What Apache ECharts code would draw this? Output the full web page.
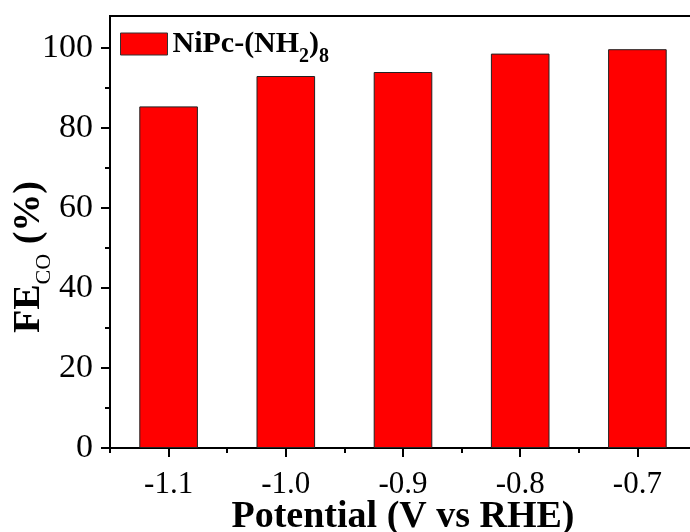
<!DOCTYPE html>
<html>
<head>
<meta charset="utf-8">
<script src="https://cdn.jsdelivr.net/npm/echarts@6/dist/echarts.min.js"></script>
<style>
  html, body { margin: 0; padding: 0; background: #fff; }
  #chart { width: 690px; height: 532px; }
</style>
</head>
<body>
<div id="chart"></div>
<script>
// Potential steps (V vs RHE) and CO Faradaic efficiency (%)
const potentials = ['-1.1', '-1.0', '-0.9', '-0.8', '-0.7'];
const feCO = [85.4, 93.0, 94.0, 98.6, 99.7];
const yMajorTicks = [0, 20, 40, 60, 80, 100];
const yMinorTicks = [10, 30, 50, 70, 90];
const seriesName = 'NiPc-(NH2)8';

const serif = 'Liberation Serif';

const chart = echarts.init(document.getElementById('chart'));
chart.setOption({
  animation: false,
  backgroundColor: '#fff',
  grid: {
    left: 110, top: 16, bottom: 84, width: 586,
    outerBoundsMode: 'none',
    show: true, borderColor: '#000', borderWidth: 2,
    backgroundColor: 'transparent'
  },
  legend: {
    left: 115, top: 24,
    itemWidth: 47, itemHeight: 22, itemGap: 8,
    icon: 'rect',
    itemStyle: { borderColor: '#333', borderWidth: 1 },
    data: [seriesName],
    formatter: () => '{a|NiPc-(NH}{s|2}{a|)}{s|8}',
    textStyle: {
      rich: {
        a: { fontFamily: serif, fontWeight: 'bold', fontSize: 30, color: '#000', lineHeight: 34 },
        s: { fontFamily: serif, fontWeight: 'bold', fontSize: 20, color: '#000', lineHeight: 20, verticalAlign: 'bottom', padding: [0, 0, -6, 0] }
      }
    }
  },
  xAxis: [
    {
      type: 'category',
      data: potentials,
      position: 'bottom',
      boundaryGap: true,
      axisLine: { show: true, lineStyle: { color: '#000', width: 2 } },
      axisTick: { show: true, alignWithLabel: true, inside: false, length: 9, lineStyle: { color: '#000', width: 2 } },
      axisLabel: { fontFamily: serif, fontSize: 31, color: '#000', margin: 21 },
      name: 'Potential (V vs RHE)',
      nameLocation: 'middle',
      nameGap: 50,
      nameMoveOverlap: false,
      nameTextStyle: { fontFamily: serif, fontWeight: 'bold', fontSize: 38, color: '#000' },
      splitLine: { show: false }
    },
    {
      type: 'category',
      data: potentials,
      position: 'bottom',
      boundaryGap: true,
      axisLine: { show: false },
      axisTick: { show: true, alignWithLabel: false, inside: false, length: 5, lineStyle: { color: '#000', width: 2 } },
      axisLabel: { show: false },
      splitLine: { show: false }
    }
  ],
  yAxis: [
    {
      type: 'value',
      min: 0, max: 108,
      position: 'left',
      axisLine: { show: true, lineStyle: { color: '#000', width: 2 } },
      axisTick: { show: true, inside: false, length: 9, customValues: yMajorTicks, lineStyle: { color: '#000', width: 2 } },
      axisLabel: { fontFamily: serif, fontSize: 34, color: '#000', margin: 17, customValues: yMajorTicks },
      splitLine: { show: false },
      name: '{b|FE}{s|CO}{b| (%)}',
      nameLocation: 'middle',
      nameGap: 60,
      nameMoveOverlap: false,
      nameTextStyle: {
        padding: [0, 50, 0, 0],
        rich: {
          b: { fontFamily: serif, fontWeight: 'bold', fontSize: 38, color: '#000', lineHeight: 42 },
          s: { fontFamily: serif, fontWeight: 'normal', fontSize: 22, color: '#000', lineHeight: 22, verticalAlign: 'bottom', padding: [0, 0, -5, 0] }
        }
      }
    },
    {
      type: 'value',
      min: 0, max: 108,
      position: 'left',
      axisLine: { show: false },
      axisTick: { show: true, inside: false, length: 5, customValues: yMinorTicks, lineStyle: { color: '#000', width: 2 } },
      axisLabel: { show: false },
      splitLine: { show: false }
    }
  ],
  series: [
    {
      name: seriesName,
      type: 'bar',
      xAxisIndex: 0,
      yAxisIndex: 0,
      data: feCO,
      barWidth: '50%',
      itemStyle: { color: '#ff0000', borderColor: '#222', borderWidth: 1 }
    }
  ]
});
</script>
</body>
</html>
